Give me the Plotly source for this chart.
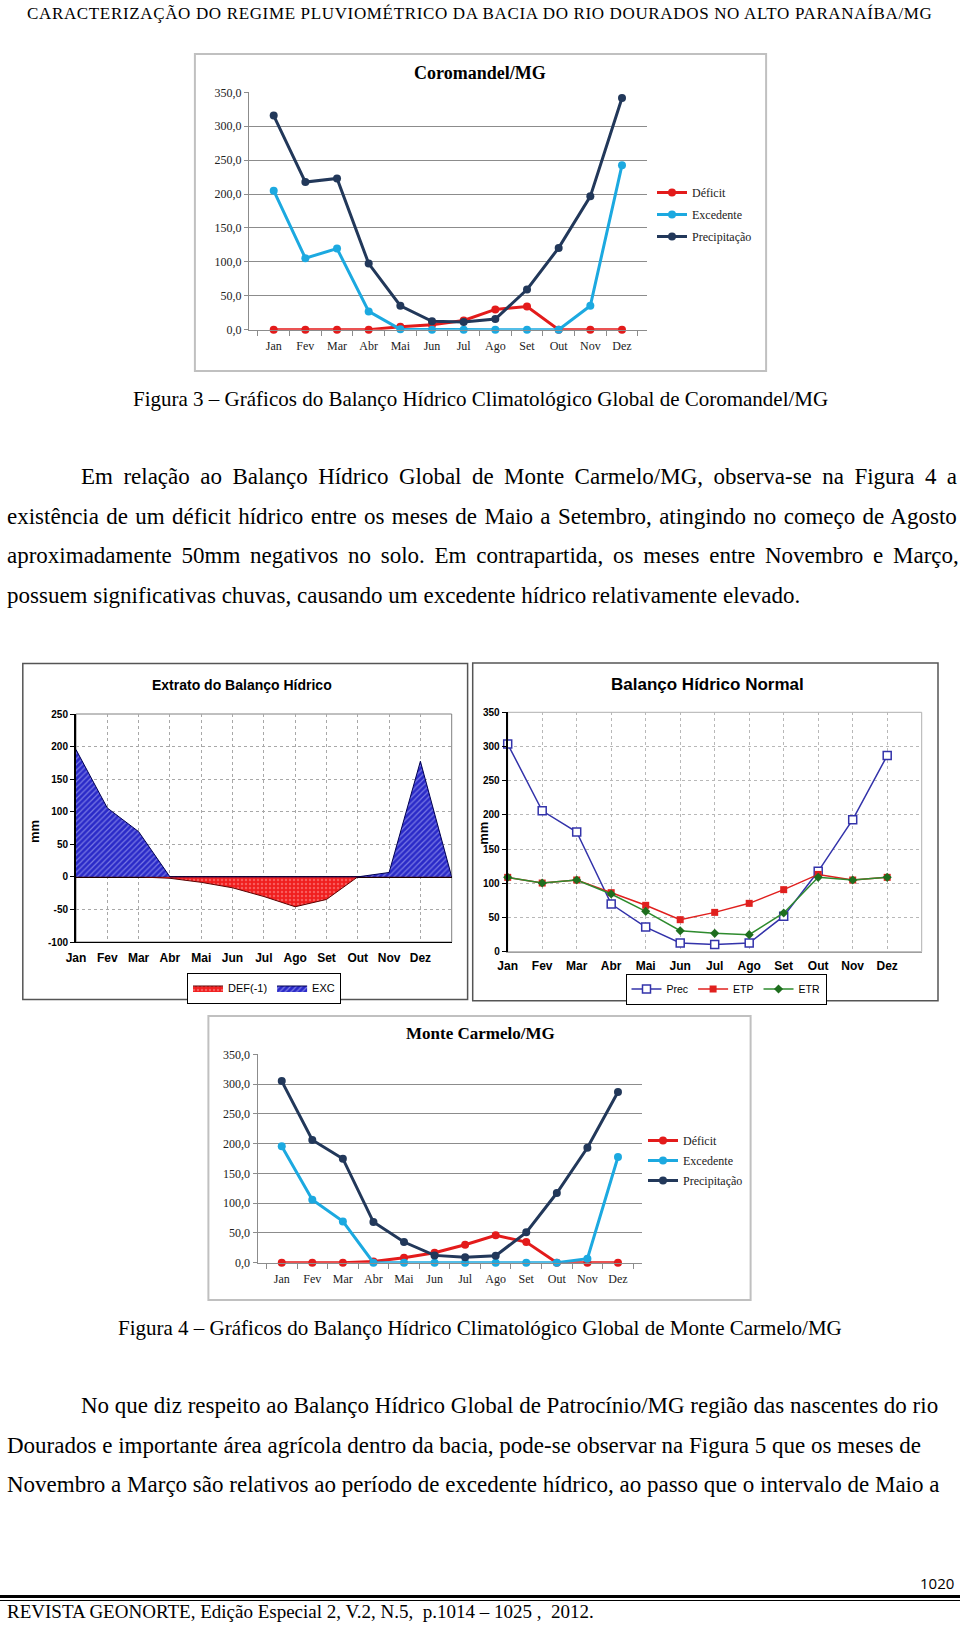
import plotly.graph_objects as go

meses = ["Jan", "Fev", "Mar", "Abr", "Mai", "Jun", "Jul", "Ago", "Set", "Out", "Nov", "Dez"]

# Coromandel/MG
coro_deficit = [0, 0, 0, 0, 4.4, 7.4, 13.7, 29.9, 34.3, 0, 0, 0]
coro_excedente = [204.9, 105.4, 119.6, 27.0, 0.5, 0, 0, 0, 0, 0, 35.3, 242.6]
coro_precip = [315.7, 217.6, 223.0, 97.5, 35.3, 12.3, 11.3, 15.7, 59.3, 120.6, 196.6, 341.7]

# Monte Carmelo/MG
mc_deficit = [0, 0, 0, 2.2, 8.4, 16.8, 30.2, 45.9, 34.7, 0, 0, 0]
mc_excedente = [195.4, 105.8, 69.4, 0, 0, 0, 0, 0, 0, 0, 6.7, 177.5]
mc_precip = [305.0, 206.0, 174.7, 68.3, 34.7, 12.3, 9.0, 11.8, 51.0, 117.0, 193.0, 286.7]

# Extrato do Balanço Hídrico (13 pontos, o último fecha a área)
ext_def = [0, 0, 0, -2.2, -8.4, -16.8, -30.2, -45.9, -34.7, 0, 0, 0, 0]
ext_exc = [195.4, 105.8, 69.4, 0, 0, 0, 0, 0, 0, 0, 6.7, 177.5, 0]
ext_ticks = [-100, -50, 0, 50, 100, 150, 200, 250]

# Balanço Hídrico Normal
bh_prec = [303.7, 206.0, 175.0, 69.7, 36.0, 12.7, 10.7, 12.7, 52.0, 117.5, 193.0, 286.7]
bh_etp = [108.7, 100.4, 104.8, 86.3, 67.8, 46.8, 57.5, 70.7, 90.7, 113.0, 104.8, 108.7]
bh_etr = [108.7, 100.4, 104.8, 84.3, 59.0, 30.7, 26.8, 24.9, 56.6, 108.7, 104.8, 108.7]

W, H = 960, 1626


def X(px):
    return px / W


def Y(py):
    return 1 - py / H


SERIF = "Liberation Serif"
SANS = "Liberation Sans"
RED, CYAN, NAVY = "#E31B1B", "#1CA9E0", "#22385A"

fig = go.Figure()


def excel_lines(xa, ya, leg, dados):
    for nome, vals, cor in dados:
        fig.add_trace(go.Scatter(
            x=meses, y=vals, name=nome, mode="lines+markers", xaxis=xa, yaxis=ya,
            line=dict(color=cor, width=3), marker=dict(size=8, color=cor),
            cliponaxis=False, legend=leg, legendgroup=leg + nome))


excel_lines("x", "y", "legend", [("Déficit", coro_deficit, RED),
                                   ("Excedente", coro_excedente, CYAN),
                                   ("Precipitação", coro_precip, NAVY)])
excel_lines("x4", "y4", "legend4", [("Déficit", mc_deficit, RED),
                                      ("Excedente", mc_excedente, CYAN),
                                      ("Precipitação", mc_precip, NAVY)])

xs13 = list(range(13))
fig.add_trace(go.Scatter(
    x=xs13, y=ext_def, name="DEF(-1)", xaxis="x2", yaxis="y2", mode="lines",
    line=dict(color="#5A0000", width=1), fill="tozeroy", fillcolor="#F01E1E",
    fillpattern=dict(shape=".", fgcolor="#FF9A9A", bgcolor="#F01E1E", size=4, solidity=0.3),
    legend="legend2"))
fig.add_trace(go.Scatter(
    x=xs13, y=ext_exc, name="EXC", xaxis="x2", yaxis="y2", mode="lines",
    line=dict(color="#000050", width=1), fill="tozeroy", fillcolor="#2A2AC8",
    fillpattern=dict(shape="/", fgcolor="#C8C8FF", bgcolor="#2A2AC8", size=4, solidity=0.3),
    legend="legend2"))

xs12 = list(range(12))
fig.add_trace(go.Scatter(
    x=xs12, y=bh_prec, name="Prec", xaxis="x3", yaxis="y3", mode="lines+markers",
    line=dict(color="#3333AA", width=1.5),
    marker=dict(symbol="square", size=8, color="white", line=dict(color="#3333AA", width=1.5)),
    cliponaxis=False, legend="legend3"))
fig.add_trace(go.Scatter(
    x=xs12, y=bh_etp, name="ETP", xaxis="x3", yaxis="y3", mode="lines+markers",
    line=dict(color="#E0201E", width=1.5), marker=dict(symbol="square", size=7, color="#E0201E"),
    cliponaxis=False, legend="legend3"))
fig.add_trace(go.Scatter(
    x=xs12, y=bh_etr, name="ETR", xaxis="x3", yaxis="y3", mode="lines+markers",
    line=dict(color="#2E8B2E", width=1.5), marker=dict(symbol="diamond", size=7, color="#1E6E1E"),
    cliponaxis=False, legend="legend3"))

grid = "#8C8C8C"
excel_x = dict(type="category", tickson="boundaries", ticks="outside", ticklen=5, tickcolor=grid,
               showline=True, linecolor=grid, showgrid=False, tickfont=dict(family=SERIF, size=12, color="#222"),
               ticklabelstandoff=5, automargin=False)
excel_y = dict(range=[0, 350], dtick=50, tickformat=".1f", showgrid=True, gridcolor=grid, showline=True,
               linecolor=grid, ticks="outside", ticklen=4, tickcolor=grid, zeroline=False,
               tickfont=dict(family=SERIF, size=12, color="#222"), automargin=False)

boldtick = dict(family=SANS, size=10, color="black", weight="bold")
boldx = dict(family=SANS, size=12, color="black", weight="bold")

fig.update_layout(
    width=W, height=H, margin=dict(l=0, r=0, t=0, b=0, pad=0, autoexpand=False),
    paper_bgcolor="white", plot_bgcolor="white", separators=",.",
    xaxis=dict(domain=[X(248.8), X(646.9)], anchor="y", **excel_x),
    yaxis=dict(domain=[Y(329.7), Y(92.3)], anchor="x", **excel_y),
    xaxis4=dict(domain=[X(257.5), X(642.2)], anchor="y4", **excel_x),
    yaxis4=dict(domain=[Y(1262.7), Y(1054.3)], anchor="x4", **excel_y),
    xaxis2=dict(domain=[X(76), X(451.7)], anchor="y2", range=[0, 12], tickvals=list(range(13)),
                ticktext=meses + [""], showgrid=True, gridcolor="#A8A8A8", griddash="dot",
                showline=True, linecolor="black", linewidth=1, ticks="", tickfont=boldx,
                ticklabelstandoff=5, zeroline=False, automargin=False),
    yaxis2=dict(domain=[Y(942), Y(714)], anchor="x2", range=[-100, 250], tickvals=ext_ticks,
                ticktext=[str(v) for v in ext_ticks], showgrid=True,
                gridcolor="#A8A8A8", griddash="dot", zeroline=True, zerolinecolor="black", zerolinewidth=1.5,
                showline=True, linecolor="black", linewidth=2, ticks="outside", ticklen=4,
                tickcolor="black", tickfont=boldtick, automargin=False),
    xaxis3=dict(domain=[X(507.7), X(921.7)], anchor="y3", range=[0, 12], tickvals=list(range(13)),
                ticktext=meses + [""], showgrid=True, gridcolor="#B8B8B8", griddash="dot",
                showline=True, linecolor="#A0A0A0", linewidth=1, ticks="", tickfont=boldx,
                ticklabelstandoff=3, zeroline=False, automargin=False),
    yaxis3=dict(domain=[Y(951.7), Y(712.3)], anchor="x3", range=[0, 350], dtick=50, showgrid=True,
                gridcolor="#B8B8B8", griddash="dot", zeroline=False,
                showline=True, linecolor="black", linewidth=2, ticks="outside", ticklen=4,
                tickcolor="black", tickfont=boldtick, automargin=False),
    legend=dict(x=X(652), y=Y(178), xanchor="left", yanchor="top", bgcolor="rgba(0,0,0,0)",
                font=dict(family=SERIF, size=12, color="#222"), tracegroupgap=3, itemwidth=30),
    legend4=dict(x=X(643), y=Y(1126), xanchor="left", yanchor="top", bgcolor="rgba(0,0,0,0)",
                 font=dict(family=SERIF, size=12, color="#222"), tracegroupgap=1, itemwidth=30),
    legend2=dict(x=X(264), y=Y(988), xanchor="center", yanchor="middle", orientation="h",
                 bgcolor="white", bordercolor="black", borderwidth=1,
                 font=dict(family=SANS, size=11, color="black"), itemwidth=30),
    legend3=dict(x=X(726), y=Y(989), xanchor="center", yanchor="middle", orientation="h",
                 bgcolor="white", bordercolor="black", borderwidth=1,
                 font=dict(family=SANS, size=10.5, color="black"), itemwidth=30),
)

# molduras dos gráficos
frames = [((194.9, 53.9, 766.1, 371.1), "#C0C0C0", 2),
          ((208.4, 1016, 750.6, 1300), "#C0C0C0", 2),
          ((22.8, 663.5, 467.6, 999.4), "#555555", 1.5),
          ((472.7, 663, 938, 1000.7), "#555555", 1.5)]
for (x0, y0, x1, y1), cor, lw in frames:
    fig.add_shape(type="rect", xref="paper", yref="paper", x0=X(x0), x1=X(x1), y0=Y(y0), y1=Y(y1),
                  line=dict(color=cor, width=lw), layer="below")
for ref, cor in [("2", "#808080"), ("3", "#B0B0B0")]:
    fig.add_shape(type="rect", xref="x" + ref + " domain", yref="y" + ref + " domain",
                  x0=0, x1=1, y0=0, y1=1, line=dict(color=cor, width=1), layer="below")

# linhas do rodapé
fig.add_shape(type="line", xref="paper", yref="paper", x0=0, x1=1, y0=Y(1596.5), y1=Y(1596.5),
              line=dict(color="black", width=3))
fig.add_shape(type="line", xref="paper", yref="paper", x0=0, x1=1, y0=Y(1600.5), y1=Y(1600.5),
              line=dict(color="black", width=1))


def texto(t, x, y, size, family=SERIF, xanchor="left", bold=False, angle=0, ls=0, ws=0):
    if ls or ws:
        t = '<span style="letter-spacing:%.2fpx;word-spacing:%.2fpx">%s</span>' % (ls, ws, t)
    fig.add_annotation(text=t, x=X(x), y=Y(y), xref="paper", yref="paper", showarrow=False,
                       xanchor=xanchor, yanchor="middle", textangle=angle,
                       font=dict(family=family, size=size, color="black", weight="bold" if bold else "normal"))


texto("CARACTERIZAÇÃO DO REGIME PLUVIOMÉTRICO DA BACIA DO RIO DOURADOS NO ALTO PARANAÍBA/MG",
      479, 13.5, 17, xanchor="center", ls=0.65)
texto("Coromandel/MG", 480, 72.6, 18, xanchor="center", bold=True)
texto("Figura 3 – Gráficos do Balanço Hídrico Climatológico Global de Coromandel/MG", 480, 399, 21,
      xanchor="center")

par1 = ["Em relação ao Balanço Hídrico Global de Monte Carmelo/MG, observa-se na Figura 4 a",
        "existência de um déficit hídrico entre os meses de Maio a Setembro, atingindo no começo de Agosto",
        "aproximadamente 50mm negativos no solo. Em contrapartida, os meses entre Novembro e Março,",
        "possuem significativas chuvas, causando um excedente hídrico relativamente elevado."]
par1_y = [476.9, 516.3, 555.7, 595]
par1_x = [78.8, 5.2, 5.2, 5.2]
par1_ws = [4.7, 1.6, 4.0, 0]
for t, x, y, ws in zip(par1, par1_x, par1_y, par1_ws):
    texto(t, x, y, 23, ws=ws)

texto("Extrato do Balanço Hídrico", 241.7, 685, 14, family=SANS, xanchor="center", bold=True)
texto("Balanço Hídrico Normal", 707.3, 685, 17, family=SANS, xanchor="center", bold=True)
texto("mm", 35, 832, 13, family=SANS, xanchor="center", bold=True, angle=-90)
texto("mm", 482.7, 833, 13, family=SANS, xanchor="center", bold=True, angle=-90)

texto("Monte Carmelo/MG", 480, 1033.6, 17, xanchor="center", bold=True)
texto("Figura 4 – Gráficos do Balanço Hídrico Climatológico Global de Monte Carmelo/MG", 480, 1328, 21,
      xanchor="center")

par2 = ["No que diz respeito ao Balanço Hídrico Global de Patrocínio/MG região das nascentes do rio",
        "Dourados e importante área agrícola dentro da bacia, pode-se observar na Figura 5 que os meses de",
        "Novembro a Março são relativos ao período de excedente hídrico, ao passo que o intervalo de Maio a"]
par2_y = [1405.8, 1445.2, 1484.5]
par2_x = [78.8, 5.2, 5.2]
for t, x, y in zip(par2, par2_x, par2_y):
    texto(t, x, y, 23)

texto("1020", 955.8, 1583, 15, family="Open Sans", xanchor="right")
texto("REVISTA GEONORTE, Edição Especial 2, V.2, N.5,  p.1014 – 1025 ,  2012.", 5.2, 1611, 19)

# a página do navegador tem margem de 8px por padrão; zera para a figura ocupar a janela
fig.write_html("out.html", config={"displayModeBar": False},
               post_script="document.body.style.margin='0';document.body.style.overflow='hidden';")
